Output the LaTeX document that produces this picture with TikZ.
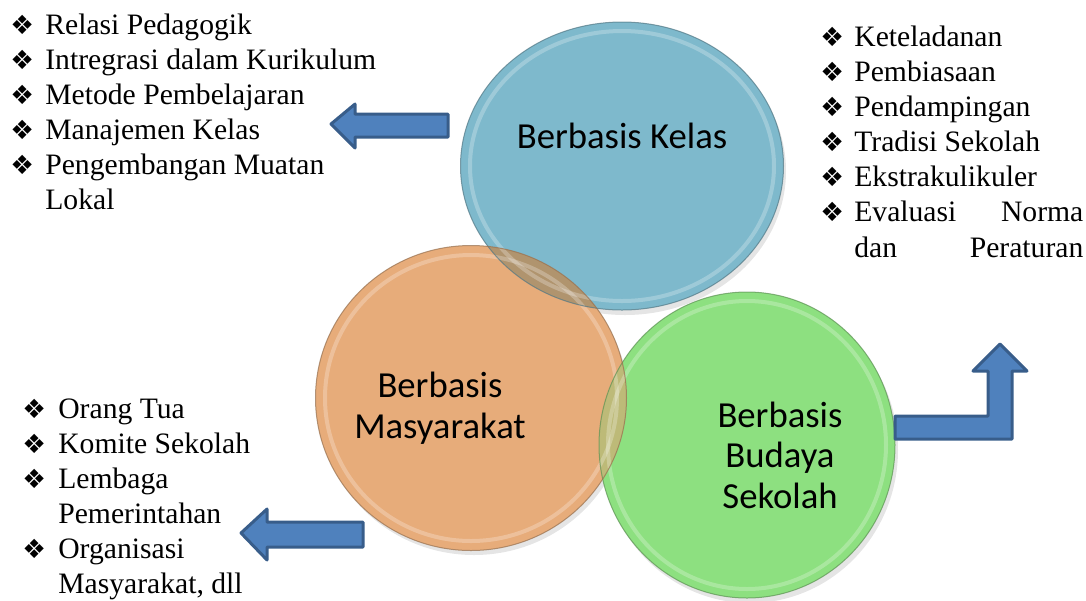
\documentclass[tikz,border=0pt]{standalone}
\usepackage{fontspec}
\setmainfont{Liberation Serif}
\newfontfamily\calibrifont{Carlito}
\newfontfamily\dingfont{DejaVu Sans}
\usetikzlibrary{shapes.geometric}

\newlength{\du}
\setlength{\du}{0.5669pt}

\definecolor{kelasfill}{rgb}{0.494,0.725,0.800}
\definecolor{masyfill}{rgb}{0.906,0.675,0.478}
\definecolor{budayafill}{rgb}{0.553,0.878,0.502}
\definecolor{kelasmasyfill}{rgb}{0.690,0.580,0.430}
\definecolor{masybudayafill}{rgb}{0.740,0.730,0.470}
\definecolor{dialinecolor}{rgb}{0.220,0.365,0.541}
\definecolor{diafillcolor}{rgb}{0.310,0.506,0.741}

\newcommand{\pointmark}{{\dingfont\fontsize{15}{15}\selectfont ❖}}

\tikzset{
  bubble/.style={ellipse, inner sep=0pt, line width=1\du},
  bubbleedge/.style={line width=1\du, opacity=0.7},
  bubblerim/.style={white, opacity=0.25, line width=4\du},
  bubbleshade/.style={black, opacity=0.10},
  bubbletext/.style={font=\calibrifont\fontsize{20.8}{23}\selectfont, align=center, text=black},
  pointlist/.style={anchor=north west, inner sep=0pt, font=\fontsize{16.8}{19.9}\selectfont},
  blockarrow/.style={fill=diafillcolor, draw=dialinecolor, line width=3\du, line join=round}
}

\begin{document}
\begin{tikzpicture}
\pgftransformyscale{-1.000000}
\useasboundingbox (0\du,0\du) rectangle (1086\du,600\du);
% shadows
\fill[bubbleshade] (625\du,171\du) ellipse [x radius=161\du, y radius=144\du];
\fill[bubbleshade] (750\du,450\du) ellipse [x radius=148\du, y radius=153\du];
\fill[bubbleshade] (474\du,403\du) ellipse [x radius=155\du, y radius=152\du];
% bubbles
\node[bubble, fill=kelasfill, minimum width=323\du, minimum height=288\du] (kelas) at (622\du,166\du) {};
\node[bubble, fill=budayafill, minimum width=296\du, minimum height=306\du] (budaya) at (747\du,445\du) {};
\node[bubble, fill=masyfill, minimum width=311\du, minimum height=305\du] (masy) at (471\du,398\du) {};
% overlaps
\begin{scope}
\clip (kelas.center) ellipse [x radius=161.5\du, y radius=144\du];
\fill[kelasmasyfill] (masy.center) ellipse [x radius=155.5\du, y radius=152.5\du];
\end{scope}
\begin{scope}
\clip (budaya.center) ellipse [x radius=148\du, y radius=153\du];
\fill[masybudayafill] (masy.center) ellipse [x radius=155.5\du, y radius=152.5\du];
\end{scope}
\draw[bubblerim] (kelas.center) ellipse [x radius=152\du, y radius=135\du];
\draw[bubblerim] (budaya.center) ellipse [x radius=139\du, y radius=144\du];
\draw[bubblerim] (masy.center) ellipse [x radius=146\du, y radius=143\du];
\draw[bubbleedge, draw=kelasfill!65!black] (kelas.center) ellipse [x radius=161.5\du, y radius=144\du];
\draw[bubbleedge, draw=budayafill!65!black] (budaya.center) ellipse [x radius=148\du, y radius=153\du];
\draw[bubbleedge, draw=masyfill!65!black] (masy.center) ellipse [x radius=155.5\du, y radius=152.5\du];
% setfont left to latex
\node[bubbletext] (kelaslabel) at (622\du,136\du) {Berbasis Kelas};
\node[bubbletext] (masylabel) at (440\du,408\du) {Berbasis\\Masyarakat};
\node[bubbletext] (budayalabel) at (780\du,455\du) {Berbasis\\Budaya\\Sekolah};
% lists
\node[pointlist] (kelaslist) at (10\du,9.5\du) {%
\begin{tabular}{@{}p{35\du}@{}l@{}}
\pointmark & Relasi Pedagogik\\
\pointmark & Intregrasi dalam Kurikulum\\
\pointmark & Metode Pembelajaran\\
\pointmark & Manajemen Kelas\\
\pointmark & Pengembangan Muatan\\
 & Lokal
\end{tabular}};
\node[pointlist] (budayalist) at (820\du,21.5\du) {%
\begin{tabular}{@{}p{34\du}@{}p{229\du}@{}}
\pointmark & Keteladanan\\
\pointmark & Pembiasaan\\
\pointmark & Pendampingan\\
\pointmark & Tradisi Sekolah\\
\pointmark & Ekstrakulikuler\\
\pointmark & Evaluasi\hfill Norma\\
 & dan\hfill Peraturan
\end{tabular}};
\node[pointlist] (masylist) at (22\du,393.5\du) {%
\begin{tabular}{@{}p{36\du}@{}l@{}}
\pointmark & Orang Tua\\
\pointmark & Komite Sekolah\\
\pointmark & Lembaga\\
 & Pemerintahan\\
\pointmark & Organisasi\\
 & Masyarakat, dll
\end{tabular}};
% arrows
\draw[blockarrow] (331\du,124\du)--(355\du,104\du)--(355\du,114\du)--(448\du,114\du)--(448\du,137\du)--(355\du,137\du)--(355\du,148\du)--cycle;
\draw[blockarrow] (241\du,533\du)--(267\du,509\du)--(267\du,522\du)--(363\du,522\du)--(363\du,547\du)--(267\du,547\du)--(267\du,560\du)--cycle;
\draw[blockarrow] (895\du,416\du)--(988\du,416\du)--(988\du,371\du)--(973\du,371\du)--(1000\du,344\du)--(1027\du,371\du)--(1012\du,371\du)--(1012\du,439\du)--(895\du,439\du)--cycle;
\end{tikzpicture}
\end{document}
